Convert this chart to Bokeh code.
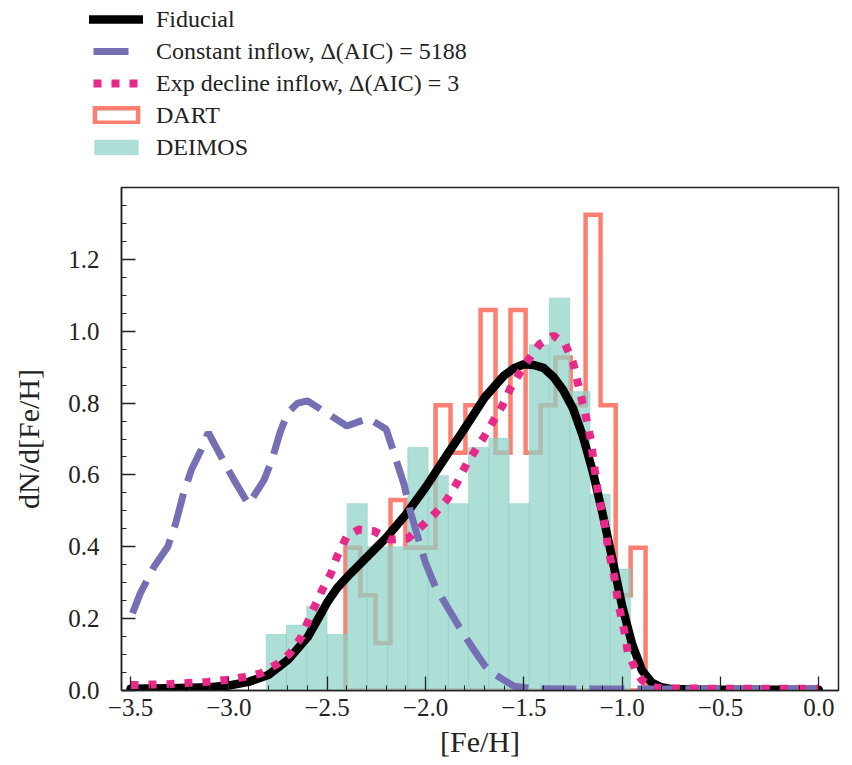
from bokeh.plotting import figure
from bokeh.layouts import column
from bokeh.models import (Range1d, FixedTicker, CustomJSTickFormatter,
                          Legend, LegendItem)
from bokeh.embed import file_html
from bokeh.resources import INLINE

# ---- DEIMOS metallicity histogram (density) ----
deimos_edges = [-2.810, -2.707, -2.604, -2.501, -2.398, -2.296, -2.193,
                -2.090, -1.987, -1.884, -1.781, -1.678, -1.575, -1.473,
                -1.370, -1.267, -1.164, -1.061, -0.958]
deimos_density = [0.156, 0.182, 0.234, 0.156, 0.520, 0.400, 0.400, 0.676,
                  0.598, 0.520, 0.676, 0.702, 0.520, 0.962, 1.092, 0.832,
                  0.546, 0.338]

# ---- DART metallicity histogram (density, step outline) ----
dart_edges = [-2.407, -2.331, -2.254, -2.178, -2.102, -2.026, -1.949,
              -1.873, -1.797, -1.720, -1.644, -1.568, -1.491, -1.415,
              -1.339, -1.262, -1.186, -1.110, -1.033, -0.957, -0.881]
dart_density = [0.397, 0.265, 0.132, 0.530, 0.397, 0.397, 0.794, 0.662,
                0.794, 1.059, 0.662, 1.059, 0.662, 0.794, 0.927, 0.794,
                1.324, 0.794, 0.265, 0.397]

# ---- model MDFs ----
fid_feh = [-3.5, -3.3, -3.1, -3.0, -2.9, -2.8, -2.7, -2.6, -2.55, -2.5,
           -2.45, -2.4, -2.3, -2.2, -2.1, -2.0, -1.9, -1.8, -1.7, -1.6,
           -1.55, -1.5, -1.45, -1.4, -1.35, -1.3, -1.25, -1.2, -1.15, -1.1,
           -1.05, -1.0, -0.95, -0.9, -0.85, -0.8, -0.75, -0.6, -0.3, 0.0]
fid_dn = [0.005, 0.006, 0.009, 0.014, 0.024, 0.043, 0.085, 0.148, 0.196,
          0.245, 0.285, 0.315, 0.370, 0.425, 0.490, 0.565, 0.648, 0.730,
          0.815, 0.877, 0.897, 0.908, 0.906, 0.898, 0.873, 0.836, 0.785,
          0.708, 0.610, 0.493, 0.366, 0.235, 0.130, 0.057, 0.022, 0.009,
          0.004, 0.002, 0.002, 0.002]

const_feh = [-3.49, -3.45, -3.38, -3.31, -3.27, -3.23, -3.19, -3.14, -3.105,
             -3.04, -2.975, -2.90, -2.82, -2.78, -2.74, -2.70, -2.65, -2.60,
             -2.52, -2.40, -2.29, -2.20, -2.16, -2.11, -2.075, -2.04, -2.00,
             -1.95, -1.88, -1.81, -1.75, -1.70, -1.65, -1.55, -1.45, -1.2,
             -1.0, -0.5, 0.0]
const_dn = [0.215, 0.271, 0.345, 0.401, 0.466, 0.550, 0.615, 0.671, 0.718,
            0.652, 0.587, 0.518, 0.587, 0.643, 0.718, 0.774, 0.800, 0.806,
            0.778, 0.736, 0.758, 0.727, 0.660, 0.575, 0.494, 0.429, 0.355,
            0.289, 0.224, 0.160, 0.110, 0.070, 0.045, 0.012, 0.005, 0.004,
            0.004, 0.004, 0.004]

exp_feh = [-3.5, -3.3, -3.11, -3.0, -2.92, -2.84, -2.75, -2.69, -2.63,
           -2.58, -2.525, -2.48, -2.45, -2.40, -2.34, -2.26, -2.18, -2.09,
           -2.02, -1.95, -1.89, -1.84, -1.79, -1.70, -1.65, -1.61, -1.57,
           -1.52, -1.475, -1.42, -1.35, -1.29, -1.25, -1.21, -1.185, -1.16,
           -1.14, -1.12, -1.09, -1.07, -1.04, -1.02, -0.99, -0.97, -0.93,
           -0.90, -0.85, -0.8, -0.5, 0.0]
exp_dn = [0.015, 0.018, 0.024, 0.030, 0.038, 0.047, 0.075, 0.103, 0.150,
          0.215, 0.280, 0.327, 0.373, 0.429, 0.448, 0.443, 0.420, 0.423,
          0.457, 0.494, 0.532, 0.578, 0.632, 0.708, 0.755, 0.792, 0.839,
          0.885, 0.922, 0.964, 0.988, 0.964, 0.913, 0.820, 0.764, 0.699,
          0.615, 0.541, 0.466, 0.392, 0.317, 0.243, 0.168, 0.103, 0.057,
          0.029, 0.010, 0.006, 0.005, 0.005]

x_ticks = [-3.5, -3.0, -2.5, -2.0, -1.5, -1.0, -0.5, 0.0]
y_ticks = [0.0, 0.2, 0.4, 0.6, 0.8, 1.0, 1.2]

labels = ["Fiducial",
          "Constant inflow, \u0394(AIC) = 5188",
          "Exp decline inflow, \u0394(AIC) = 3",
          "DART",
          "DEIMOS"]

SERIF = "Liberation Serif"
INK = "#222222"
C_FID, C_CONST, C_EXP = "black", "#7570b3", "#e7298a"
C_DART, C_DEIMOS = "#fb8072", "#8dd3c7"

FID_STYLE = dict(line_color=C_FID, line_width=8.5, line_join="round",
                 line_cap="round")
CONST_STYLE = dict(line_color=C_CONST, line_width=7, line_cap="butt")
EXP_STYLE = dict(line_color=C_EXP, line_width=8, line_cap="butt")
DART_STYLE = dict(fill_color=None, line_color=C_DART, line_width=4.5,
                  line_join="miter")
DEIMOS_STYLE = dict(fill_color=C_DEIMOS, fill_alpha=0.72,
                    line_color=C_DEIMOS, line_alpha=0.6, line_width=1)

# ---------------- main panel ----------------
p = figure(width=852, height=595, output_backend="svg", toolbar_location=None,
           x_range=Range1d(-3.546, 0.10), y_range=Range1d(0.0, 1.40),
           min_border_left=121, min_border_right=14,
           min_border_top=17, min_border_bottom=75)
p.frame_align = False
p.background_fill_color = "white"
p.border_fill_color = "white"
p.grid.visible = False
p.outline_line_color = INK
p.outline_line_width = 1.5

# DART outline as a closed step polygon
dart_x = [dart_edges[0]]
dart_y = [0.0]
for i, h in enumerate(dart_density):
    dart_x += [dart_edges[i], dart_edges[i + 1]]
    dart_y += [h, h]
dart_x.append(dart_edges[-1])
dart_y.append(0.0)
p.patch(dart_x, dart_y, **DART_STYLE)

# DEIMOS filled bars
p.quad(left=deimos_edges[:-1], right=deimos_edges[1:],
       top=deimos_density, bottom=0, **DEIMOS_STYLE)

p.line(fid_feh, fid_dn, **FID_STYLE)
p.line(const_feh, const_dn, line_dash="35 13", **CONST_STYLE)
p.line(exp_feh, exp_dn, line_dash="8 10", **EXP_STYLE)

for ax in (p.xaxis[0], p.yaxis[0]):
    ax.axis_line_color = INK
    ax.axis_line_width = 1.5
    ax.major_tick_line_color = INK
    ax.minor_tick_line_color = INK
    ax.major_tick_line_width = 1.3
    ax.minor_tick_line_width = 1.0
    ax.major_tick_in = 14
    ax.major_tick_out = 0
    ax.minor_tick_in = 5
    ax.minor_tick_out = 0
    ax.major_label_text_font = SERIF
    ax.major_label_text_font_size = "25px"
    ax.major_label_text_color = INK
    ax.axis_label_text_font = SERIF
    ax.axis_label_text_font_style = "normal"
    ax.axis_label_text_color = INK

p.xaxis.ticker = FixedTicker(
    ticks=x_ticks,
    minor_ticks=[round(-3.5 + 0.1 * k, 1) for k in range(37)])
p.yaxis.ticker = FixedTicker(
    ticks=y_ticks,
    minor_ticks=[round(0.05 * k, 2) for k in range(28)])
p.xaxis.formatter = CustomJSTickFormatter(
    code="return (tick < -1e-9 ? '\u2212' : '') + Math.abs(tick).toFixed(1);")
p.yaxis.formatter = CustomJSTickFormatter(code="return tick.toFixed(1);")

p.xaxis.axis_label = "[Fe/H]"
p.xaxis.axis_label_text_font_size = "30px"
p.xaxis.major_label_standoff = 8
p.xaxis.axis_label_standoff = 6
p.yaxis.axis_label = "dN/d[Fe/H]"
p.yaxis.axis_label_text_font_size = "30px"
p.yaxis.major_label_standoff = 22
p.yaxis.axis_label_standoff = 20

# ---------------- legend strip above the panel ----------------
lg = figure(width=852, height=170, output_backend="svg", toolbar_location=None,
            x_range=Range1d(0, 1), y_range=Range1d(0, 1),
            x_axis_location=None, y_axis_location=None,
            min_border=0)
lg.frame_align = False
lg.outline_line_color = None
lg.grid.visible = False
lg.background_fill_color = "white"
lg.border_fill_color = "white"

# key renderers sit outside the visible range; only their legend swatches show.
# The dashed keys use a finite pattern so the swatch shows one dash / three dots.
k_fid = lg.line([-5, -4], [-5, -5], **FID_STYLE)
k_const = lg.line([-5, -4], [-5, -5], line_dash="0 4 35 200", **CONST_STYLE)
k_exp = lg.line([-5, -4], [-5, -5], line_dash="0 4 8 10 8 10 8 200",
                **EXP_STYLE)
k_dart = lg.patch([-5, -4, -4], [-5, -5, -4], **DART_STYLE)
k_deimos = lg.quad(left=[-5], right=[-4], top=[-4], bottom=[-5],
                   **DEIMOS_STYLE)

legend = Legend(items=[
    LegendItem(label=labels[0], renderers=[k_fid]),
    LegendItem(label=labels[1], renderers=[k_const]),
    LegendItem(label=labels[2], renderers=[k_exp]),
    LegendItem(label=labels[3], renderers=[k_dart]),
    LegendItem(label=labels[4], renderers=[k_deimos]),
], location=(89, 9))
legend.border_line_color = None
legend.background_fill_alpha = 0
legend.padding = 0
legend.margin = 0
legend.spacing = 4
legend.glyph_width = 54
legend.glyph_height = 18
legend.label_height = 28
legend.label_standoff = 13
legend.label_text_font = SERIF
legend.label_text_font_size = "24px"
legend.label_text_color = INK
lg.add_layout(legend, "center")

open("out.html", "w").write(file_html(column(lg, p, spacing=0), INLINE))
